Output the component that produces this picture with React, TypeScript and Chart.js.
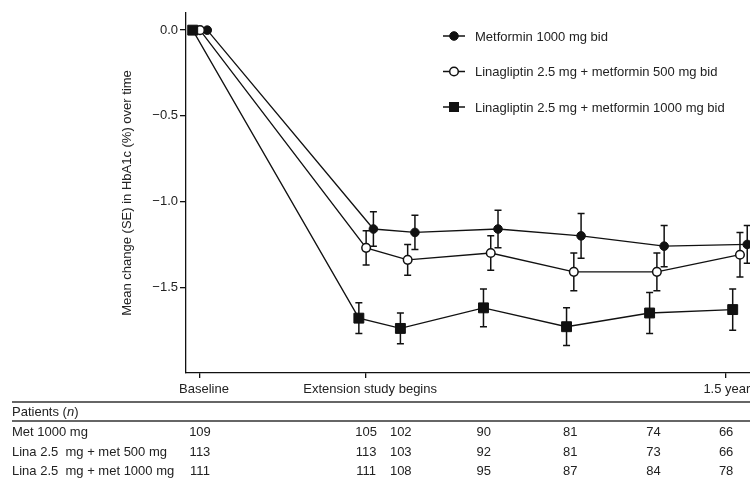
import { useEffect, useRef } from "react";
import { Chart, registerables } from "chart.js";

Chart.register(...registerables);

// ---- Data ----
const weeks = [0, 24, 30, 42, 54, 66, 78];

const seriesLabels = [
  "Metformin 1000 mg bid",
  "Linagliptin 2.5 mg + metformin 500 mg bid",
  "Linagliptin 2.5 mg + metformin 1000 mg bid",
];

const metforminMean = [0, -1.16, -1.18, -1.16, -1.2, -1.26, -1.25];
const metforminSE = [0, 0.1, 0.1, 0.11, 0.13, 0.12, 0.11];

const linaLowMean = [0, -1.27, -1.34, -1.3, -1.41, -1.41, -1.31];
const linaLowSE = [0, 0.1, 0.09, 0.1, 0.11, 0.11, 0.13];

const linaHighMean = [0, -1.68, -1.74, -1.62, -1.73, -1.65, -1.63];
const linaHighSE = [0, 0.09, 0.09, 0.11, 0.11, 0.12, 0.12];

const xTickValues = [0, 24, 76];
const xTickLabels = ["Baseline", "Extension study begins", "1.5 years"];
const yTickValues = [0, -0.5, -1.0, -1.5];

const tableColumnWeeks = [0, 24, 29, 41, 53.5, 65.5, 76];
const tableRowLabels = [
  "Met 1000 mg",
  "Lina 2.5  mg + met 500 mg",
  "Lina 2.5  mg + met 1000 mg",
];
const metPatients = [109, 105, 102, 90, 81, 74, 66];
const linaLowPatients = [113, 113, 103, 92, 81, 73, 66];
const linaHighPatients = [111, 111, 108, 95, 87, 84, 78];

const yTitle = "Mean change (SE) in HbA1c (%) over time";

// ---- Styles ----
const FONT = "'Liberation Sans', Arial, Helvetica, sans-serif";
const TEXT = "#222";
const INK = "#111";
const DODGE = 1.05;

type Marker = "filled" | "open" | "square";

const seriesDefs: { mean: number[]; se: number[]; marker: Marker; dodge: number }[] = [
  { mean: metforminMean, se: metforminSE, marker: "filled", dodge: DODGE },
  { mean: linaLowMean, se: linaLowSE, marker: "open", dodge: 0 },
  { mean: linaHighMean, se: linaHighSE, marker: "square", dodge: -DODGE },
];

function drawMarker(ctx: CanvasRenderingContext2D, m: Marker, x: number, y: number) {
  ctx.save();
  ctx.strokeStyle = INK;
  if (m === "square") {
    ctx.fillStyle = INK;
    ctx.fillRect(x - 5, y - 5, 10, 10);
  } else {
    ctx.beginPath();
    ctx.arc(x, y, 4.3, 0, Math.PI * 2);
    ctx.fillStyle = m === "filled" ? INK : "#fff";
    ctx.fill();
    ctx.lineWidth = m === "filled" ? 1 : 1.5;
    ctx.stroke();
  }
  ctx.restore();
}

export default function App() {
  const ref = useRef<HTMLCanvasElement | null>(null);

  useEffect(() => {
    if (!ref.current) return;

    const datasets = seriesDefs.map((s, k) => ({
      label: seriesLabels[k],
      data: weeks.map((w, i) => ({ x: w + s.dodge, y: s.mean[i] })),
      borderColor: INK,
      borderWidth: 1.3,
      pointStyle: s.marker === "square" ? "rect" : "circle",
      pointRadius: s.marker === "square" ? 7 : 4.3,
      pointBackgroundColor: s.marker === "open" ? "#fff" : INK,
      pointBorderColor: INK,
      pointBorderWidth: s.marker === "open" ? 1.5 : 1,
      order: 2 - k,
      clip: false,
      se: s.se,
    }));

    const errorBars = {
      id: "errorBars",
      beforeDatasetsDraw(chart: any) {
        const ctx = chart.ctx as CanvasRenderingContext2D;
        const ys = chart.scales.y;
        ctx.save();
        ctx.strokeStyle = INK;
        ctx.lineWidth = 1.5;
        chart.data.datasets.forEach((ds: any, di: number) => {
          const meta = chart.getDatasetMeta(di);
          ds.data.forEach((pt: any, i: number) => {
            const se = ds.se[i];
            if (!se) return;
            const x = meta.data[i].x;
            const yt = ys.getPixelForValue(pt.y + se);
            const yb = ys.getPixelForValue(pt.y - se);
            ctx.beginPath();
            ctx.moveTo(x, yt);
            ctx.lineTo(x, yb);
            ctx.moveTo(x - 3.5, yt);
            ctx.lineTo(x + 3.5, yt);
            ctx.moveTo(x - 3.5, yb);
            ctx.lineTo(x + 3.5, yb);
            ctx.stroke();
          });
        });
        ctx.restore();
      },
    };

    const legendPlugin = {
      id: "customLegend",
      afterDraw(chart: any) {
        const ctx = chart.ctx as CanvasRenderingContext2D;
        const ca = chart.chartArea;
        ctx.save();
        seriesDefs.forEach((s, k) => {
          const y = ca.top + 23 + k * 35.5;
          const x0 = 443;
          ctx.strokeStyle = INK;
          ctx.lineWidth = 1.5;
          ctx.beginPath();
          ctx.moveTo(x0, y);
          ctx.lineTo(x0 + 22, y);
          ctx.stroke();
          drawMarker(ctx, s.marker, x0 + 11, y);
          ctx.fillStyle = TEXT;
          ctx.font = `13px ${FONT}`;
          ctx.textAlign = "left";
          ctx.textBaseline = "middle";
          ctx.fillText(seriesLabels[k], x0 + 32, y + 1);
        });
        ctx.restore();
      },
    };

    const tablePlugin = {
      id: "patientTable",
      afterDraw(chart: any) {
        const ctx = chart.ctx as CanvasRenderingContext2D;
        const xs = chart.scales.x;
        const base = chart.chartArea.bottom;
        const left = 12;
        const right = chart.width;
        ctx.save();
        ctx.strokeStyle = "#333";
        ctx.lineWidth = 1.3;
        [base + 29, base + 48].forEach((ly) => {
          ctx.beginPath();
          ctx.moveTo(left, ly);
          ctx.lineTo(right, ly);
          ctx.stroke();
        });
        ctx.fillStyle = TEXT;
        ctx.textBaseline = "middle";
        ctx.textAlign = "left";
        ctx.font = `13px ${FONT}`;
        const hy = base + 39;
        const p1 = "Patients (";
        ctx.fillText(p1, left, hy);
        let w = ctx.measureText(p1).width;
        ctx.font = `italic 13px ${FONT}`;
        ctx.fillText("n", left + w, hy);
        w += ctx.measureText("n").width;
        ctx.font = `13px ${FONT}`;
        ctx.fillText(")", left + w, hy);

        const rows = [metPatients, linaLowPatients, linaHighPatients];
        rows.forEach((vals, r) => {
          const ry = base + 59.5 + r * 19.5;
          ctx.textAlign = "left";
          ctx.fillText(tableRowLabels[r], left, ry);
          ctx.textAlign = "center";
          vals.forEach((v, c) => {
            ctx.fillText(String(v), xs.getPixelForValue(tableColumnWeeks[c]), ry);
          });
        });
        ctx.restore();
      },
    };

    const chart = new Chart(ref.current, {
      type: "line",
      data: { datasets: datasets as any },
      options: {
        animation: false,
        responsive: false,
        devicePixelRatio: 1,
        layout: { autoPadding: false, padding: { top: 13, left: 0, right: 0, bottom: 0 } },
        plugins: {
          legend: { display: false },
          tooltip: { enabled: false },
        },
        scales: {
          x: {
            type: "linear",
            position: "bottom",
            min: -2.02,
            max: 79.45,
            grid: {
              display: true,
              drawOnChartArea: false,
              drawTicks: true,
              tickLength: 5,
              color: INK,
              lineWidth: 1.3,
            },
            border: { display: true, color: INK, width: 1.3 },
            ticks: {
              autoSkip: false,
              maxRotation: 0,
              minRotation: 0,
              padding: 4,
              labelOffset: 4,
              color: TEXT,
              font: { family: FONT, size: 13 },
              callback: (_v: any, i: number) => xTickLabels[i],
            },
            afterBuildTicks: (s: any) => {
              s.ticks = xTickValues.map((v) => ({ value: v }));
            },
            afterFit: (s: any) => {
              s.height = 117;
              s.paddingLeft = 0;
              s.paddingRight = 0;
            },
          },
          y: {
            type: "linear",
            min: -2.0,
            max: 0.1,
            grid: {
              display: true,
              drawOnChartArea: false,
              drawTicks: true,
              tickLength: 6,
              color: INK,
              lineWidth: 1.3,
            },
            border: { display: true, color: INK, width: 1.3 },
            ticks: {
              padding: 2,
              color: TEXT,
              font: { family: FONT, size: 13 },
              callback: (v: any) => Number(v).toFixed(1).replace("-", "\u2212"),
            },
            afterBuildTicks: (s: any) => {
              s.ticks = yTickValues.map((v) => ({ value: v }));
            },
            afterFit: (s: any) => {
              s.width = 186;
              s.paddingTop = 0;
              s.paddingBottom = 0;
            },
            title: {
              display: true,
              text: yTitle,
              color: TEXT,
              font: { family: FONT, size: 13 },
              padding: { top: 120, bottom: 0 },
            },
          },
        },
      },
      plugins: [errorBars, legendPlugin, tablePlugin],
    });

    return () => chart.destroy();
  }, []);

  return (
    <div style={{ position: "absolute", left: 0, top: 0, width: 750, height: 490, background: "#fff" }}>
      <canvas ref={ref} width={750} height={490} style={{ display: "block" }} />
    </div>
  );
}
